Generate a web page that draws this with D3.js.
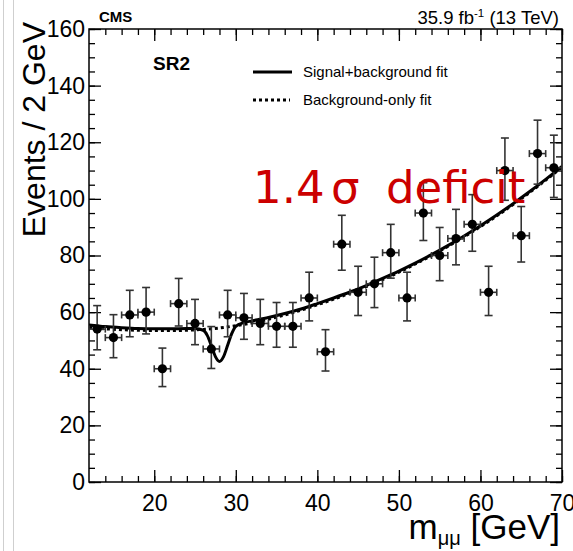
<!DOCTYPE html>
<meta charset='utf-8'>
<head>
    <title>SR2 fit</title>
    <script src='https://cdn.jsdelivr.net/npm/d3@7/dist/d3.min.js'></script>
</head>

<style>
    body { margin: 0; background: #fff; }
    svg { display: block; font-family: 'Liberation Sans', Arial, sans-serif; }
    .axis path { display: none; }
    .axis line { stroke: #000; stroke-width: 1.3px; }
    .axis text { font-size: 23px; fill: #000; font-family: 'Liberation Sans', Arial, sans-serif; }
    .errbar { stroke: #333; stroke-width: 1.6px; }
</style>

<svg></svg>

<script>

    // bins of 2 GeV, centres 13 ... 69
    var binCentres = [13, 15, 17, 19, 21, 23, 25, 27, 29, 31, 33, 35, 37, 39, 41,
        43, 45, 47, 49, 51, 53, 55, 57, 59, 61, 63, 65, 67, 69];
    var counts = [54, 51, 59, 60, 40, 63, 56, 47, 59, 58, 56, 55, 55, 65, 46,
        84, 67, 70, 81, 65, 95, 80, 86, 91, 67, 110, 87, 116, 111];
    var errUp = [8.3, 8.1, 8.7, 8.7, 7.3, 8.9, 8.5, 7.9, 8.7, 8.6, 8.5, 8.4, 8.4, 9.1, 7.8,
        10.2, 9.2, 9.4, 10.0, 9.1, 10.7, 9.9, 10.3, 10.5, 9.2, 11.5, 10.3, 11.8, 11.5];
    var errDown = [7.3, 7.1, 7.7, 7.7, 6.3, 7.9, 7.5, 6.9, 7.7, 7.6, 7.5, 7.4, 7.4, 8.1, 6.8,
        9.2, 8.2, 8.4, 9.0, 8.1, 9.7, 8.9, 9.3, 9.5, 8.2, 10.5, 9.3, 10.8, 10.5];
    var binHalfWidth = 1;

    // background-only fit
    var bkgX = [12, 14, 16, 18, 20, 22, 24, 26, 28, 30, 32, 34, 36, 38, 40, 42, 44,
        46, 48, 50, 52, 54, 56, 58, 60, 62, 64, 66, 68, 70];
    var bkgY = [54.6, 54.1, 53.8, 53.6, 53.5, 53.5, 53.6, 53.9, 54.4, 55.2, 56.2, 57.5, 59.0, 60.7, 62.6, 64.6, 66.7,
        69.0, 71.5, 74.1, 77.0, 80.0, 83.2, 86.6, 90.2, 94.0, 98.0, 102.2, 106.6, 111.2];

    // signal+background fit (deficit near 28 GeV)
    var sbX = [12, 14, 16, 18, 20, 22, 24, 25, 26, 26.5, 27, 27.5, 28, 28.5, 29, 29.5, 30, 31, 32,
        34, 36, 38, 40, 42, 44, 46, 48, 50, 52, 54, 56, 58, 60, 62, 64, 66, 68, 70];
    var sbY = [55.5, 54.9, 54.5, 54.2, 54.1, 54.1, 54.2, 54.2, 53.6, 51.8, 48.2, 44.3, 42.6, 44.3, 48.3, 52.4, 55.0, 56.3, 56.9,
        58.1, 59.5, 61.1, 63.0, 65.0, 67.1, 69.4, 71.9, 74.5, 77.3, 80.3, 83.5, 86.9, 90.5, 94.3, 98.3, 102.5, 106.9, 111.5];

    var xMajor = [20, 30, 40, 50, 60, 70];
    var xMinor = d3.range(14, 71, 2);
    var yMajor = [0, 20, 40, 60, 80, 100, 120, 140, 160];
    var yMinor = d3.range(0, 161, 5);

    var vWidth = 573, vHeight = 551;
    var padL = 89, padR = 562, padT = 29, padB = 482;

    var svg = d3.select('svg').attr('width', vWidth).attr('height', vHeight);

    // light page borders on the left
    svg.append('line').attr('x1', 3.5).attr('x2', 3.5).attr('y1', 0).attr('y2', vHeight)
        .attr('stroke', '#cfcfcf').attr('stroke-width', 1);
    svg.append('line').attr('x1', 13.5).attr('x2', 13.5).attr('y1', 0).attr('y2', vHeight)
        .attr('stroke', '#cfcfcf').attr('stroke-width', 1);

    var x = d3.scaleLinear().domain([12, 70]).range([padL, padR]);
    var y = d3.scaleLinear().domain([0, 160]).range([padB, padT]);

    svg.append('defs').append('clipPath').attr('id', 'plotclip')
        .append('rect').attr('x', padL).attr('y', padT).attr('width', padR - padL).attr('height', padB - padT);

    // axes, ticks pointing inwards
    function addAxis(axis, tx, ty) {
        svg.append('g').attr('class', 'axis').attr('transform', 'translate(' + tx + ',' + ty + ')').call(axis);
    }
    addAxis(d3.axisBottom(x).tickValues(xMajor).tickSize(-12).tickPadding(13).tickFormat(d3.format('d')), 0, padB);
    addAxis(d3.axisBottom(x).tickValues(xMinor).tickSize(-6).tickFormat(''), 0, padB);
    addAxis(d3.axisTop(x).tickValues(xMajor).tickSize(-12).tickFormat(''), 0, padT);
    addAxis(d3.axisTop(x).tickValues(xMinor).tickSize(-6).tickFormat(''), 0, padT);
    addAxis(d3.axisLeft(y).tickValues(yMajor).tickSize(-12).tickPadding(4).tickFormat(d3.format('d')), padL, 0);
    addAxis(d3.axisLeft(y).tickValues(yMinor).tickSize(-6).tickFormat(''), padL, 0);
    addAxis(d3.axisRight(y).tickValues(yMajor).tickSize(-12).tickFormat(''), padR, 0);
    addAxis(d3.axisRight(y).tickValues(yMinor).tickSize(-6).tickFormat(''), padR, 0);

    svg.append('rect').attr('x', padL).attr('y', padT).attr('width', padR - padL).attr('height', padB - padT)
        .attr('fill', 'none').attr('stroke', '#000').attr('stroke-width', 1.5);

    var plot = svg.append('g').attr('clip-path', 'url(#plotclip)');

    // fits
    var line = d3.line().curve(d3.curveMonotoneX)
        .x(function (d) { return x(d[0]); })
        .y(function (d) { return y(d[1]); });

    plot.append('path').datum(d3.zip(bkgX, bkgY)).attr('d', line)
        .attr('fill', 'none').attr('stroke', '#000').attr('stroke-width', 3).attr('stroke-dasharray', '3,3');
    plot.append('path').datum(d3.zip(sbX, sbY)).attr('d', line)
        .attr('fill', 'none').attr('stroke', '#000').attr('stroke-width', 3);

    // data points
    var pts = binCentres.map(function (c, i) {
        return {x: c, n: counts[i], up: errUp[i], dn: errDown[i]};
    });
    var pg = plot.selectAll('g.pt').data(pts).enter().append('g').attr('class', 'pt');
    pg.append('line').attr('class', 'errbar')
        .attr('x1', function (d) { return x(d.x); }).attr('x2', function (d) { return x(d.x); })
        .attr('y1', function (d) { return y(d.n + d.up); }).attr('y2', function (d) { return y(d.n - d.dn); });
    pg.append('line').attr('class', 'errbar')
        .attr('x1', function (d) { return x(d.x - binHalfWidth); }).attr('x2', function (d) { return x(d.x + binHalfWidth); })
        .attr('y1', function (d) { return y(d.n); }).attr('y2', function (d) { return y(d.n); });
    [function (d) { return y(d.n + d.up); }, function (d) { return y(d.n - d.dn); }].forEach(function (fy) {
        pg.append('line').attr('class', 'errbar')
            .attr('x1', function (d) { return x(d.x) - 4; }).attr('x2', function (d) { return x(d.x) + 4; })
            .attr('y1', fy).attr('y2', fy);
    });
    [-binHalfWidth, binHalfWidth].forEach(function (off) {
        pg.append('line').attr('class', 'errbar')
            .attr('x1', function (d) { return x(d.x + off); }).attr('x2', function (d) { return x(d.x + off); })
            .attr('y1', function (d) { return y(d.n) - 3.5; }).attr('y2', function (d) { return y(d.n) + 3.5; });
    });
    pg.append('circle').attr('cx', function (d) { return x(d.x); }).attr('cy', function (d) { return y(d.n); })
        .attr('r', 4.6).attr('fill', '#000');

    // header texts
    svg.append('text').attr('x', 99).attr('y', 22).attr('font-size', 15).attr('font-weight', 'bold').text('CMS');
    var lumi = svg.append('text').attr('x', 559).attr('y', 24).attr('font-size', 18.5).attr('text-anchor', 'end');
    lumi.append('tspan').text('35.9 fb');
    lumi.append('tspan').attr('dy', -7).attr('font-size', 11.5).text('-1');
    lumi.append('tspan').attr('dy', 7).text(' (13 TeV)');

    svg.append('text').attr('x', 153).attr('y', 70).attr('font-size', 19).attr('font-weight', 'bold').text('SR2');

    // legend
    svg.append('line').attr('x1', 253).attr('x2', 292).attr('y1', 72).attr('y2', 72)
        .attr('stroke', '#000').attr('stroke-width', 3);
    svg.append('line').attr('x1', 253).attr('x2', 290).attr('y1', 100).attr('y2', 100)
        .attr('stroke', '#000').attr('stroke-width', 3).attr('stroke-dasharray', '3,3');
    svg.append('text').attr('x', 303).attr('y', 77).attr('font-size', 15).text('Signal+background fit');
    svg.append('text').attr('x', 303).attr('y', 105).attr('font-size', 15).text('Background-only fit');

    // annotation
    var ann = svg.append('text').attr('y', 203).attr('font-size', 45).attr('fill', '#cc0000')
        .attr('font-family', 'DejaVu Sans, sans-serif');
    ann.append('tspan').attr('x', 253).text('1.4');
    ann.append('tspan').attr('x', 331).text('\u03c3');
    ann.append('tspan').attr('x', 386).text('deficit');

    // axis titles
    svg.append('text').attr('transform', 'translate(45,22) rotate(-90)').attr('text-anchor', 'end')
        .attr('font-size', 32).text('Events / 2 GeV');
    var xt = svg.append('text').attr('x', 560).attr('y', 539).attr('text-anchor', 'end').attr('font-size', 35);
    xt.append('tspan').text('m');
    xt.append('tspan').attr('dy', 6).attr('font-size', 20).text('\u03bc\u03bc');
    xt.append('tspan').attr('dy', -6).text(' [GeV]');

</script>
